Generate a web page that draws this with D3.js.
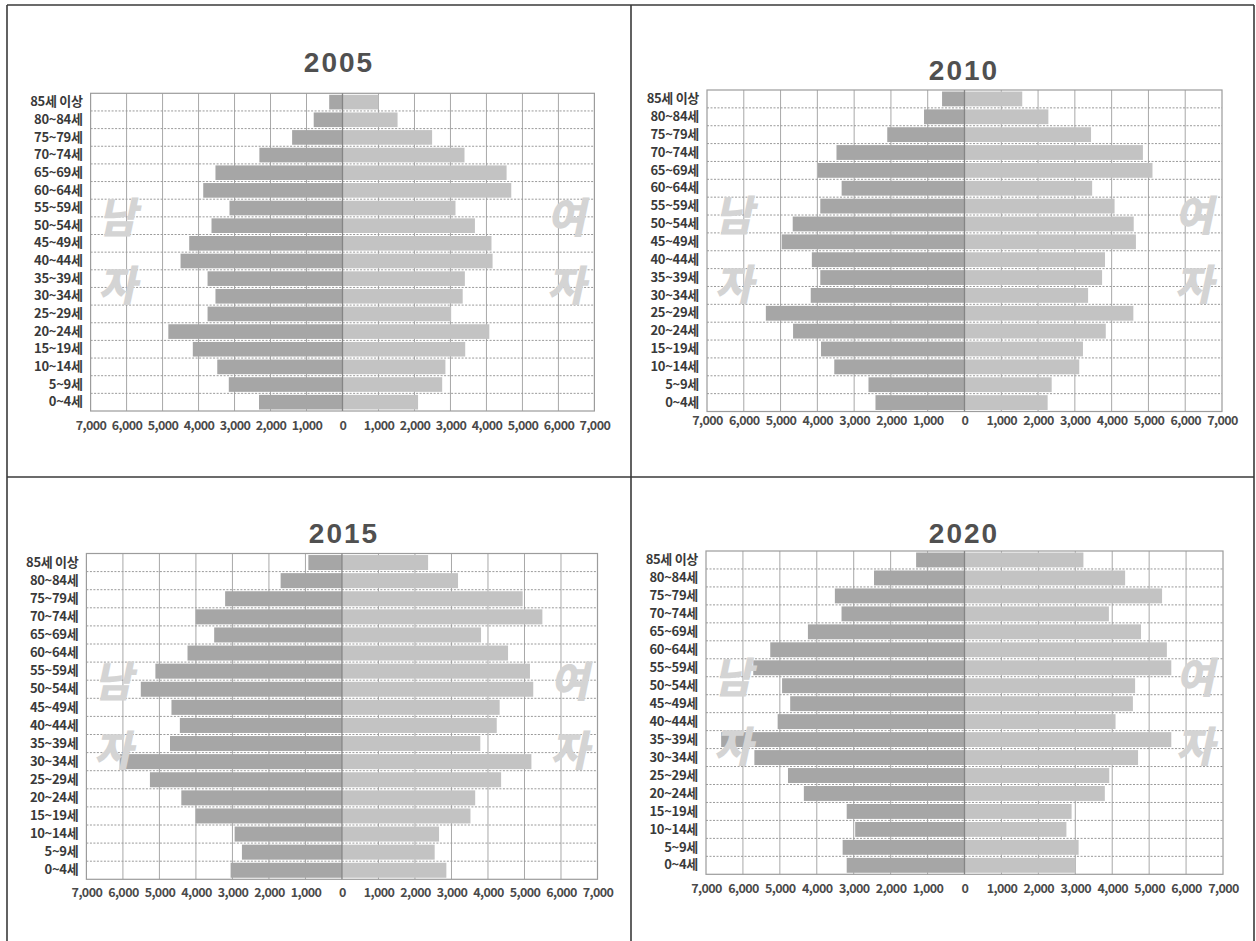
<!DOCTYPE html>
<html>
<head>
<meta charset="utf-8">
<script src="https://cdn.jsdelivr.net/npm/d3@7"></script>
<style>
  html, body { margin: 0; padding: 0; background: #fff; }
  svg { display: block; }
</style>
</head>
<body>
<svg id="chart" width="1256" height="941"></svg>
<script>
// ---------------- DATA ----------------
const ageGroups = ["85세 이상","80~84세","75~79세","70~74세","65~69세","60~64세","55~59세","50~54세",
  "45~49세","40~44세","35~39세","30~34세","25~29세","20~24세","15~19세","10~14세","5~9세","0~4세"];
const years = ["2005","2010","2015","2020"];

const male2005   = [370, 800, 1400, 2310, 3530, 3870, 3140, 3640, 4260, 4500, 3750, 3530, 3750, 4840, 4160, 3480, 3160, 2320];
const female2005 = [1000, 1530, 2490, 3390, 4560, 4690, 3140, 3680, 4140, 4170, 3400, 3340, 3020, 4080, 3410, 2860, 2770, 2100];

const male2010   = [610, 1100, 2100, 3480, 3990, 3340, 3920, 4670, 4970, 4150, 3920, 4180, 5400, 4660, 3900, 3540, 2610, 2420];
const female2010 = [1570, 2280, 3440, 4850, 5110, 3470, 4080, 4600, 4660, 3820, 3740, 3360, 4590, 3840, 3220, 3120, 2370, 2260];

const male2015   = [920, 1680, 3200, 4010, 3500, 4230, 5110, 5510, 4670, 4440, 4710, 6090, 5260, 4400, 4010, 2940, 2740, 3050];
const female2015 = [2360, 3180, 4950, 5490, 3810, 4550, 5150, 5240, 4320, 4240, 3790, 5190, 4360, 3650, 3520, 2660, 2540, 2860];

const male2020   = [1310, 2450, 3510, 3330, 4240, 5260, 5720, 4940, 4720, 5060, 6590, 5690, 4780, 4350, 3190, 2960, 3300, 3190];
const female2020 = [3220, 4350, 5350, 3910, 4780, 5480, 5600, 4620, 4560, 4090, 5600, 4700, 3920, 3800, 2900, 2760, 3090, 3000];

const tickValues = [-7000,-6000,-5000,-4000,-3000,-2000,-1000,0,1000,2000,3000,4000,5000,6000,7000];
const sideLabels = { male: ["남","자"], female: ["여","자"] };

const maleSeries = [male2005, male2010, male2015, male2020];
const femaleSeries = [female2005, female2010, female2015, female2020];

// ---------------- LAYOUT ----------------
const layout = [
  { left: 90.6, right: 594.4, top: 93.3, bottom: 411.0, titleX: 339, titleY: 72, tickY: 426 },
  { left: 707,  right: 1222,  top: 90.0, bottom: 411.5, titleX: 964, titleY: 80, tickY: 421 },
  { left: 86.4, right: 597.5, top: 553.5, bottom: 879.3, titleX: 344, titleY: 543, tickY: 893 },
  { left: 706,  right: 1223,  top: 551,  bottom: 874.3, titleX: 964, titleY: 543, tickY: 889 }
];

const svg = d3.select("#chart");
const fmt = d3.format(",");

// outer frame and dividers
const frame = svg.append("g").attr("stroke", "#3a3a3a").attr("stroke-width", 1.6).attr("fill", "none");
frame.append("line").attr("x1", 7).attr("x2", 1254).attr("y1", 5).attr("y2", 5);
frame.append("line").attr("x1", 7).attr("x2", 7).attr("y1", 5).attr("y2", 941);
frame.append("line").attr("x1", 1254).attr("x2", 1254).attr("y1", 5).attr("y2", 941);
frame.append("line").attr("x1", 631).attr("x2", 631).attr("y1", 5).attr("y2", 941);
frame.append("line").attr("x1", 7).attr("x2", 1254).attr("y1", 477).attr("y2", 477);

years.forEach((yr, i) => {
  const L = layout[i];
  const males = maleSeries[i], females = femaleSeries[i];
  const g = svg.append("g");

  const x = d3.scaleLinear().domain([-7000, 7000]).range([L.left, L.right]);
  const yRows = d3.scaleBand().domain(ageGroups).range([L.top, L.bottom]).padding(0);
  const yBars = d3.scaleBand().domain(ageGroups).range([L.top, L.bottom]).paddingInner(0.17).paddingOuter(0.085);

  // title
  g.append("text")
    .attr("x", L.titleX).attr("y", L.titleY)
    .attr("text-anchor", "middle")
    .attr("font-family", "'Liberation Sans', Arial, sans-serif")
    .attr("font-weight", "bold")
    .attr("font-size", 28)
    .attr("letter-spacing", "2")
    .attr("fill", "#505050")
    .text(yr);

  // vertical grid lines
  g.append("g").selectAll("line")
    .data(tickValues.filter(v => v !== 0 && Math.abs(v) !== 7000))
    .join("line")
    .attr("x1", d => x(d)).attr("x2", d => x(d))
    .attr("y1", L.top).attr("y2", L.bottom)
    .attr("stroke", "#a8a8a8").attr("stroke-width", 1);

  // horizontal dashed lines between rows
  g.append("g").selectAll("line")
    .data(ageGroups.slice(1))
    .join("line")
    .attr("x1", L.left).attr("x2", L.right)
    .attr("y1", d => yRows(d)).attr("y2", d => yRows(d))
    .attr("stroke", "#9a9a9a").attr("stroke-width", 1)
    .attr("stroke-dasharray", "2,1.5");

  // male bars
  g.append("g").selectAll("rect")
    .data(ageGroups.map((a, k) => ({ age: a, v: males[k] })))
    .join("rect")
    .attr("x", d => x(-d.v))
    .attr("width", d => x(0) - x(-d.v))
    .attr("y", d => yBars(d.age))
    .attr("height", yBars.bandwidth())
    .attr("fill", "#a6a6a6");

  // female bars
  g.append("g").selectAll("rect")
    .data(ageGroups.map((a, k) => ({ age: a, v: females[k] })))
    .join("rect")
    .attr("x", x(0))
    .attr("width", d => x(d.v) - x(0))
    .attr("y", d => yBars(d.age))
    .attr("height", yBars.bandwidth())
    .attr("fill", "#c3c3c3");

  // watermark side labels
  const wm = g.append("g")
    .attr("font-family", "'Noto Sans CJK KR', sans-serif")
    .attr("font-weight", "900")
    .attr("font-size", 42)
    .attr("fill", "#d4d4d4")
    .attr("text-anchor", "middle");
  const h = L.bottom - L.top;
  const rowsY = [L.top + 0.393 * h, L.top + 0.605 * h];
  sideLabels.male.forEach((ch, k) => {
    const cx = L.left + 27, cy = rowsY[k];
    wm.append("text")
      .attr("transform", `translate(${cx},${cy + 15}) skewX(-12)`)
      .text(ch);
  });
  sideLabels.female.forEach((ch, k) => {
    const cx = L.right - 28, cy = rowsY[k];
    wm.append("text")
      .attr("transform", `translate(${cx},${cy + 15}) skewX(-12)`)
      .text(ch);
  });

  // plot border
  g.append("rect")
    .attr("x", L.left).attr("y", L.top)
    .attr("width", L.right - L.left).attr("height", L.bottom - L.top)
    .attr("fill", "none").attr("stroke", "#9c9c9c").attr("stroke-width", 1.2);

  // zero line
  g.append("line")
    .attr("x1", x(0)).attr("x2", x(0))
    .attr("y1", L.top).attr("y2", L.bottom)
    .attr("stroke", "#858585").attr("stroke-width", 1.3);

  // y axis labels
  const yAxis = d3.axisLeft(yRows).tickSize(0).tickPadding(8);
  const ya = g.append("g").attr("transform", `translate(${L.left},0)`).call(yAxis);
  ya.select(".domain").remove();
  ya.selectAll("text")
    .attr("font-family", "'Noto Sans CJK KR', sans-serif")
    .attr("font-size", 13)
    .attr("font-weight", "bold")
    .attr("fill", "#3a3a3a")
    .attr("letter-spacing", "-0.3");

  // x axis tick labels
  const xAxis = d3.axisBottom(x).tickValues(tickValues).tickSize(0).tickPadding(0)
    .tickFormat(d => fmt(Math.abs(d)));
  const xa = g.append("g").attr("transform", `translate(0,${L.tickY})`).call(xAxis);
  xa.select(".domain").remove();
  xa.selectAll("text")
    .attr("dy", "0.35em")
    .attr("font-family", "'Noto Sans CJK KR', sans-serif")
    .attr("font-size", 12.5)
    .attr("font-weight", "bold")
    .attr("fill", "#4a4a4a")
    .attr("letter-spacing", "-0.6");
});
</script>
</body>
</html>
